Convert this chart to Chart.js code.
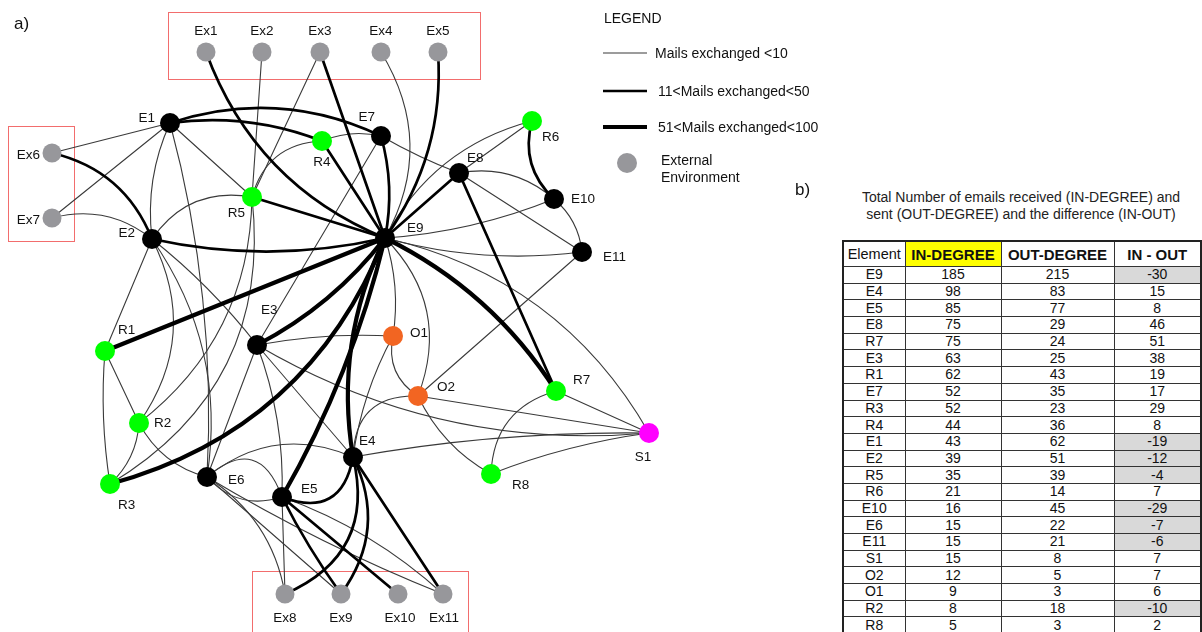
<!DOCTYPE html>
<html>
<head>
<meta charset="utf-8">
<script src="https://cdn.jsdelivr.net/npm/chart.js@4.4.1/dist/chart.umd.min.js"></script>
<style>
  body { margin: 0; background: #fff; font-family: "Liberation Sans", Arial, sans-serif; }
  #wrap { position: relative; width: 1202px; height: 632px; overflow: hidden; background: #fff; }
  #netBox { position: absolute; left: 0; top: 0; width: 840px; height: 632px; }
  .plabel { position: absolute; font-size: 17px; color: #111; }
  #title { position: absolute; left: 842px; top: 189px; width: 358px; text-align: center; font-size: 14px; line-height: 17px; color: #222; white-space: nowrap; }
  #degTable { position: absolute; left: 842px; top: 240px; width: 358px; border-collapse: collapse; table-layout: fixed; border: 2px solid #222; font-size: 14px; color: #111; }
  #degTable td, #degTable th { border: 1px solid #333; text-align: center; padding: 0; line-height: 15px; }
  #degTable th { height: 24px; font-size: 15px; font-weight: bold; }
  #degTable th.el { font-weight: normal; font-size: 14.5px; }
  #degTable th.hl { background: #ffff00; }
  #degTable td { height: 15.7px; }
  #degTable td.neg { background: #d9d9d9; }
</style>
</head>
<body>
<div id="wrap">
  <div id="netBox"><canvas id="net"></canvas></div>
  <div class="plabel" style="left:14px;top:14px">a)</div>
  <div class="plabel" style="left:795px;top:180px">b)</div>
  <div id="title">Total Number of emails received (IN-DEGREE) and<br>sent (OUT-DEGREE) and the difference (IN-OUT)</div>
  <table id="degTable">
    <colgroup><col style="width:62px"><col style="width:96px"><col style="width:113px"><col style="width:87px"></colgroup>
    <thead><tr><th class="el">Element</th><th class="hl">IN-DEGREE</th><th>OUT-DEGREE</th><th>IN - OUT</th></tr></thead>
    <tbody id="degBody"></tbody>
  </table>
</div>
<script>
// --- NETWORK DATA (positions) ---
const nodeNames = ['Ex1','Ex2','Ex3','Ex4','Ex5','Ex6','Ex7',
  'E1','E7','R4','R5','E2','E9','E8','R6','E10','E11',
  'R1','E3','O1','O2','R7','S1','R2','R3','E6','E5','E4','R8',
  'Ex8','Ex9','Ex10','Ex11'];
const nodeX = [206,262,320,381,438,52,52,
  170,381,322,252,152,385,459,532,554,582,
  105,257,393,418,556,649,139,110,207,282,353,491,
  285,341,398,443];
const nodeY = [52,52,52,52,52,153,218,
  123,136,141,197,239,238,173,121,199,252,
  351,345,336,396,391,433,423,484,477,497,457,474,
  594,594,594,594];
// kind: ext = external environment, emp = E, res = R, org = O, sup = S
const nodeKind = ['ext','ext','ext','ext','ext','ext','ext',
  'emp','emp','res','res','emp','emp','emp','res','emp','emp',
  'res','emp','org','org','res','sup','res','res','emp','emp','emp','res',
  'ext','ext','ext','ext'];

// [from, to, weight class (1: <10, 2: 11-50, 3: 51-100), bend]
const edges = [
  ['Ex1','E9',2,0.11], ['Ex3','E9',2,0], ['Ex4','E9',1,-0.145], ['Ex5','E9',2,-0.09],
  ['R4','E9',2,0], ['E7','E9',2,-0.06], ['R5','E9',2,0], ['E2','E9',2,0.056],
  ['R1','E9',3,0], ['E3','E9',3,0.055], ['R3','E9',3,0.125], ['E5','E9',3,0.036],
  ['E4','E9',3,-0.08], ['E9','E10',1,0.04], ['E9','E11',1,0.05], ['E9','R7',3,-0.07],
  ['E9','S1',1,-0.11], ['E9','O1',1,-0.06], ['E9','O2',1,-0.16], ['E8','E9',2,0],
  ['R6','E9',1,0.11], ['E8','R6',1,0], ['E8','E10',1,-0.12], ['E8','E11',1,0],
  ['E8','R7',2,0], ['E7','E8',1,0.02], ['R6','E10',2,0.15], ['E10','E11',1,-0.1],
  ['E11','O2',1,0], ['R4','R5',1,0.18], ['R4','E7',1,-0.08], ['E7','E3',1,0],
  ['E1','E7',2,-0.1], ['E1','R4',2,-0.065], ['Ex6','E1',1,0], ['Ex7','E1',1,0],
  ['E1','R5',1,0], ['E1','E2',1,0.07], ['E1','E6',1,-0.04], ['Ex6','E2',2,-0.13],
  ['Ex7','E2',1,-0.125], ['E2','R5',1,-0.16], ['E2','R1',1,0], ['E2','E3',1,-0.03],
  ['E2','R2',1,-0.15], ['E2','E6',1,-0.1], ['R5','R3',1,-0.16], ['R2','R5',1,0.12],
  ['R1','R2',1,0], ['R1','R3',1,0.03], ['R2','R3',1,-0.1], ['R2','E6',1,0.11],
  ['E3','O1',1,-0.03], ['E3','S1',1,0.08], ['E3','E6',1,0], ['E3','E5',1,-0.05],
  ['E3','E4',1,0], ['O1','O2',1,0.17], ['O1','E4',1,0.045], ['O2','S1',1,0],
  ['O2','R8',1,0.08], ['O2','E4',1,0.25], ['E4','S1',1,-0.024], ['E4','E5',2,-0.3],
  ['E4','E6',1,0.15], ['E6','E5',1,-0.36], ['E6','E5',1,0.16], ['E4','Ex8',2,-0.21],
  ['E4','Ex9',2,-0.15], ['E4','Ex11',2,0], ['E5','Ex8',1,0], ['E5','Ex9',2,0.02],
  ['E5','Ex10',2,0], ['E5','Ex11',1,-0.05], ['E6','Ex8',1,-0.11], ['E6','Ex9',1,0],
  ['E6','Ex11',1,0.02], ['R7','S1',1,0], ['R7','R8',1,0.18], ['R8','S1',1,-0.03],
  ['Ex2','R5',1,0], ['Ex3','R5',1,0]
];

// --- TABLE DATA ---
const tableElements = ['E9','E4','E5','E8','R7','E3','R1','E7','R3','R4','E1','E2','R5','R6','E10','E6','E11','S1','O2','O1','R2','R8'];
const inDegree  = [185,98,85,75,75,63,62,52,52,44,43,39,35,21,16,15,15,15,12,9,8,5];
const outDegree = [215,83,77,29,24,25,43,35,23,36,62,51,39,14,45,22,21,8,5,3,18,3];
const inOut     = [-30,15,8,46,51,38,19,17,29,8,-19,-12,-4,7,-29,-7,-6,7,7,6,-10,2];

// --- STYLES ---
const kindColor = { ext: '#97979b', emp: '#000000', res: '#00ff00', org: '#f26522', sup: '#ff00ff' };
const weightWidth = { 1: 1.1, 2: 2.7, 3: 4.2 };
const weightColor = { 1: '#3a3a3a', 2: '#000', 3: '#000' };
const labelFont = '13.5px "Liberation Sans", Arial, sans-serif';
// label offset from node centre: [dx, dy, align]
const labelPos = {
  Ex1:[0,-21,'center'], Ex2:[0,-21,'center'], Ex3:[0,-21,'center'], Ex4:[0,-21,'center'], Ex5:[0,-21,'center'],
  Ex6:[-12,2,'right'], Ex7:[-12,2,'right'], E1:[-15,-5,'right'], E7:[-6,-19,'right'], R4:[0,21,'center'],
  R5:[-7,16,'right'], E2:[-17,-6,'right'], E9:[22,-10,'left'], E8:[8,-15,'left'], R6:[10,16,'left'],
  E10:[17,0,'left'], E11:[21,5,'left'], R1:[13,-21,'left'], E3:[4,-35,'left'], O1:[17,-3,'left'],
  O2:[19,-9,'left'], R7:[17,-11,'left'], S1:[-6,24,'center'], R2:[15,0,'left'], R3:[8,21,'left'],
  E6:[21,3,'left'], E5:[19,-8,'left'], E4:[6,-16,'left'], R8:[21,11,'left'],
  Ex8:[0,24,'center'], Ex9:[0,24,'center'], Ex10:[2,24,'center'], Ex11:[1,24,'center']
};
// red frames around the external environment groups: [members, left, right, top, bottom padding]
const frames = [
  [['Ex1','Ex2','Ex3','Ex4','Ex5'], 38, 42, 40, 27],
  [['Ex6','Ex7'], 44, 22, 27, 23],
  [['Ex8','Ex9','Ex10','Ex11'], 33, 25, 23, 60]
];

function nodePx(chart, name) {
  const i = nodeNames.indexOf(name);
  return [chart.scales.x.getPixelForValue(nodeX[i]), chart.scales.y.getPixelForValue(nodeY[i])];
}

const networkPlugin = {
  id: 'network',
  beforeDatasetsDraw(chart) {
    const ctx = chart.ctx;
    ctx.save();
    // frames
    ctx.strokeStyle = '#f26d6d';
    ctx.lineWidth = 1;
    frames.forEach(([members, pl, pr, pt, pb]) => {
      const pts = members.map(m => nodePx(chart, m));
      const xs = pts.map(p => p[0]), ys = pts.map(p => p[1]);
      const x0 = Math.min(...xs) - pl, x1 = Math.max(...xs) + pr;
      const y0 = Math.min(...ys) - pt, y1 = Math.max(...ys) + pb;
      ctx.strokeRect(Math.round(x0) + 0.5, Math.round(y0) + 0.5, Math.round(x1 - x0), Math.round(y1 - y0));
    });
    // edges, thin first
    const sorted = edges.slice().sort((a, b) => a[2] - b[2]);
    ctx.lineCap = 'round';
    sorted.forEach(([a, b, w, bend]) => {
      const [x0, y0] = nodePx(chart, a);
      const [x1, y1] = nodePx(chart, b);
      const dx = x1 - x0, dy = y1 - y0, L = Math.hypot(dx, dy);
      const nx = -dy / L, ny = dx / L;
      const cx = (x0 + x1) / 2 + nx * 2 * bend * L;
      const cy = (y0 + y1) / 2 + ny * 2 * bend * L;
      ctx.beginPath();
      ctx.moveTo(x0, y0);
      ctx.quadraticCurveTo(cx, cy, x1, y1);
      ctx.strokeStyle = weightColor[w];
      ctx.lineWidth = weightWidth[w];
      ctx.stroke();
    });
    ctx.restore();
  },
  afterDatasetsDraw(chart) {
    const ctx = chart.ctx;
    ctx.save();
    ctx.font = labelFont;
    ctx.fillStyle = '#111';
    ctx.textBaseline = 'middle';
    nodeNames.forEach(n => {
      const [x, y] = nodePx(chart, n);
      const [dx, dy, al] = labelPos[n];
      ctx.textAlign = al;
      ctx.fillText(n, x + dx, y + dy);
    });
    // legend
    ctx.textAlign = 'left';
    ctx.font = '14px "Liberation Sans", Arial, sans-serif';
    ctx.fillText('LEGEND', 604, 19);
    const legendRows = [[1, 53, 'Mails exchanged <10', 655], [2, 91, '11<Mails exchanged<50', 658], [3, 127, '51<Mails exchanged<100', 658]];
    legendRows.forEach(([w, y, txt, tx]) => {
      ctx.beginPath();
      ctx.moveTo(603, y);
      ctx.lineTo(647, y);
      ctx.strokeStyle = weightColor[w];
      ctx.lineWidth = weightWidth[w];
      ctx.stroke();
      ctx.fillText(txt, tx, y + 1);
    });
    ctx.beginPath();
    ctx.arc(627, 163, 10, 0, Math.PI * 2);
    ctx.fillStyle = kindColor.ext;
    ctx.fill();
    ctx.fillStyle = '#111';
    ctx.fillText('External', 661, 161);
    ctx.fillText('Environment', 661, 178);
    ctx.restore();
  }
};

function buildNodeDatasets() {
  return Object.keys(kindColor).map(kind => ({
    label: kind,
    data: nodeNames.map((n, i) => ({ x: nodeX[i], y: nodeY[i], k: nodeKind[i] })).filter(p => p.k === kind),
    backgroundColor: kindColor[kind],
    borderWidth: 0,
    pointRadius: kind === 'ext' ? 9.5 : 10,
    pointHoverRadius: 10,
    clip: false
  }));
}

function renderNetwork() {
  const ctx = document.getElementById('net').getContext('2d');
  new Chart(ctx, {
    type: 'scatter',
    data: { datasets: buildNodeDatasets() },
    options: {
      responsive: true,
      maintainAspectRatio: false,
      animation: false,
      events: [],
      layout: { padding: 0, autoPadding: false },
      plugins: { legend: { display: false }, tooltip: { enabled: false } },
      scales: {
        x: { type: 'linear', min: 0, max: 840, display: false },
        y: { type: 'linear', min: 0, max: 632, reverse: true, display: false }
      }
    },
    plugins: [networkPlugin]
  });
}

function renderTable() {
  const body = document.getElementById('degBody');
  tableElements.forEach((el, i) => {
    const tr = document.createElement('tr');
    tr.innerHTML = `<td>${el}</td><td>${inDegree[i]}</td><td>${outDegree[i]}</td>` +
      `<td class="${inOut[i] < 0 ? 'neg' : ''}">${inOut[i]}</td>`;
    body.appendChild(tr);
  });
}

renderTable();
renderNetwork();
</script>
</body>
</html>
